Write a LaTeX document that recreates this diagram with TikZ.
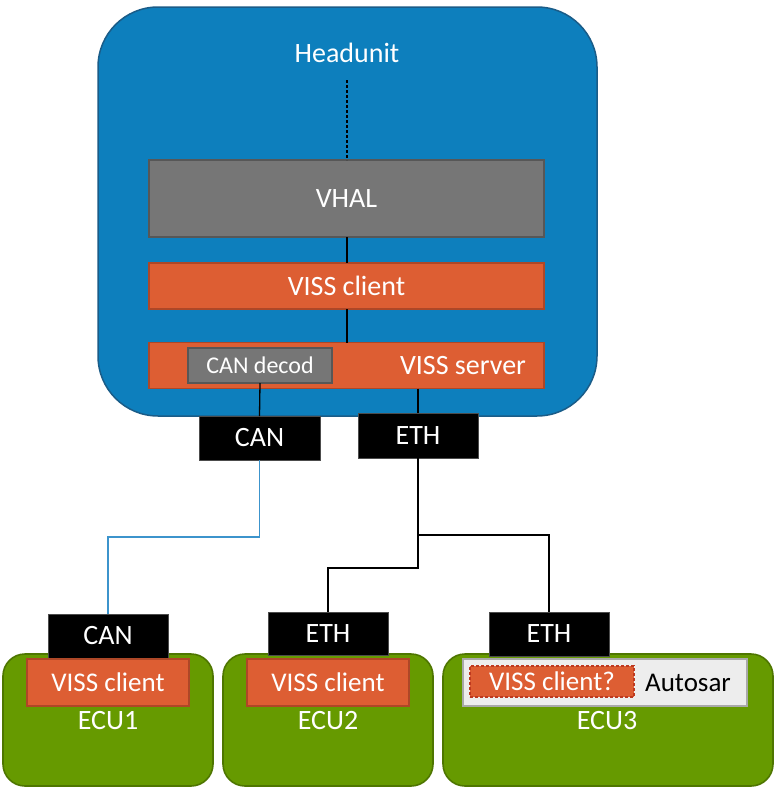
\documentclass[tikz,border=0pt]{standalone}
\usepackage{fontspec}
\setmainfont{Carlito}
\definecolor{hublue}{HTML}{0D7FBD}
\definecolor{hublueb}{HTML}{1A5C88}
\definecolor{vgray}{HTML}{767676}
\definecolor{vgrayb}{HTML}{575757}
\definecolor{vorange}{HTML}{DD5E33}
\definecolor{vorangeb}{HTML}{AE4727}
\definecolor{egreen}{HTML}{669A00}
\definecolor{egreenb}{HTML}{4E7600}
\definecolor{agray}{HTML}{EDEDED}
\definecolor{agrayb}{HTML}{A9A9A9}
\definecolor{canblue}{HTML}{3C94CC}
\tikzset{
  box/.style={inner sep=0pt, outer sep=0pt, anchor=center},
  hubox/.style={box, rectangle, rounded corners=60pt, fill=hublue, draw=hublueb, line width=1.5pt},
  graybox/.style={box, fill=vgray, draw=vgrayb, line width=1.6pt, text=white, font=\fontsize{28}{32}\selectfont},
  smallgray/.style={box, fill=vgray, draw=vgrayb, line width=1.6pt, text=white, font=\fontsize{24}{28}\selectfont},
  orangebox/.style={box, fill=vorange, draw=vorangeb, line width=1.6pt, text=white, font=\fontsize{28}{32}\selectfont},
  eorange/.style={box, fill=vorange, draw=vorangeb, line width=1.6pt, text=white, font=\fontsize{27}{31}\selectfont},
  blackbox/.style={box, fill=black, draw=black!70, line width=0.8pt, text=white, font=\fontsize{28}{32}\selectfont},
  ecubox/.style={box, rounded corners=22pt, fill=egreen, draw=egreenb, line width=1.6pt},
  label/.style={inner sep=0pt, text=white, font=\fontsize{28}{32}\selectfont},
  conn/.style={line width=1.3pt, black},
}
\begin{document}
\begin{tikzpicture}[x=1pt, y=-1pt]
\useasboundingbox (0,0) rectangle (774,787);
% Headunit
\node[hubox, minimum width=499pt, minimum height=409pt] (hu) at (347.5,211.5) {};
\node[label] (hulabel) at (347,53) {Headunit};
\node[graybox, minimum width=395pt, minimum height=77pt] (vhal) at (346.5,198.5) {VHAL};
\node[orangebox, minimum width=395pt, minimum height=46pt] (vclient) at (346.5,286) {VISS client};
\node[orangebox, minimum width=395pt, minimum height=46pt] (vserver) at (346.5,365.5) {};
\node[label] (serverlabel) at (463,366) {VISS server};
\node[smallgray, minimum width=144pt, minimum height=35pt] (candecod) at (260,365.5) {CAN decod};
\node[blackbox, minimum width=121pt, minimum height=44pt] (canhu) at (259.5,438) {CAN};
\node[blackbox, minimum width=120pt, minimum height=45pt] (ethhu) at (418,435.5) {ETH};
% ECUs
\node[ecubox, minimum width=210pt, minimum height=132pt] (ecu1) at (108,720) {};
\node[ecubox, minimum width=210pt, minimum height=132pt] (ecu2) at (328,720) {};
\node[ecubox, minimum width=330pt, minimum height=132pt] (ecu3) at (608,720) {};
\node[blackbox, minimum width=120pt, minimum height=44pt] (can1) at (108,636) {CAN};
\node[blackbox, minimum width=120pt, minimum height=43pt] (eth2) at (328,633.5) {ETH};
\node[blackbox, minimum width=120pt, minimum height=44pt] (eth3) at (549,634) {ETH};
\node[eorange, minimum width=162pt, minimum height=47pt] (vc1) at (108,682.5) {VISS client};
\node[eorange, minimum width=162pt, minimum height=47pt] (vc2) at (328,682.5) {VISS client};
\node[box, fill=agray, draw=agrayb, line width=1.6pt, minimum width=284pt, minimum height=47pt] (autosar) at (605,682.5) {};
\node[eorange, draw=vorangeb!80!red, dash pattern=on 3pt off 2pt, line width=1.2pt, minimum width=164pt, minimum height=31pt] (vc3) at (552,681.5) {VISS client?};
\node[inner sep=0pt, text=black, font=\fontsize{27}{31}\selectfont] (autosarlabel) at (688,683) {Autosar};
\node[label] (ecu1label) at (108,721) {ECU1};
\node[label] (ecu2label) at (328,721) {ECU2};
\node[label] (ecu3label) at (607,721) {ECU3};
% connectors
\coordinate (dtop) at (347,80);
\draw[line width=1.3pt, black, dash pattern=on 3pt off 2pt] (dtop) -- (vhal.north -| dtop);
\draw[conn] (vhal.south -| dtop) -- (vclient.north -| dtop);
\draw[conn] (vclient.south -| dtop) -- (vserver.north -| dtop);
\draw[conn] (candecod.south) -- (canhu.north);
\draw[conn] (ethhu.north |- vserver.south) -- (ethhu.north);
\coordinate (cj) at (0,537);
\coordinate (ej3) at (0,535);
\coordinate (ej2) at (0,568);
\draw[line width=1.3pt, canblue] (canhu.south) -- (canhu.south |- cj) -| (can1.north);
\draw[conn] (ethhu.south) -- (ethhu.south |- ej3) -| (eth3.north);
\draw[conn] (ethhu.south |- ej3) -- (ethhu.south |- ej2) -| (eth2.north);
\end{tikzpicture}
\end{document}
